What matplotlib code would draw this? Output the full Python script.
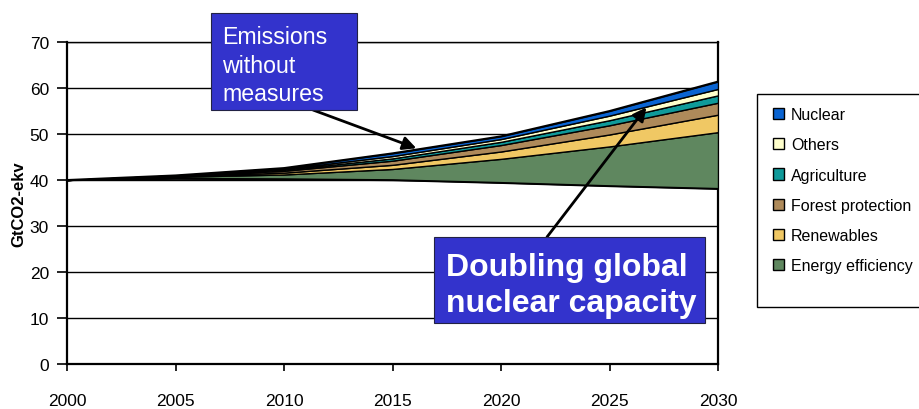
#!/usr/bin/env python3
"""Emission reduction wedges up to 2030, stacked on the with-measures path."""

import matplotlib
matplotlib.use("Agg")
import matplotlib.pyplot as plt
import numpy as np
from matplotlib.patches import Patch, Rectangle

plt.rcParams["font.family"] = ["Liberation Sans", "DejaVu Sans"]

years = [2000, 2005, 2010, 2015, 2020, 2025, 2030]

# emissions path after all measures (GtCO2-ekv)
with_measures = [40.0, 40.3, 40.2, 40.0, 39.4, 38.7, 38.1]

# reduction wedges, bottom to top
energy_efficiency = [0.0, 0.4, 1.0, 2.4, 5.2, 8.6, 12.3]
renewables = [0.0, 0.1, 0.4, 0.9, 1.6, 2.6, 3.8]
forest_protection = [0.0, 0.1, 0.4, 0.9, 1.4, 2.0, 2.6]
agriculture = [0.0, 0.05, 0.2, 0.5, 0.7, 1.1, 1.6]
others = [0.0, 0.05, 0.2, 0.5, 0.6, 1.0, 1.4]
nuclear = [0.0, 0.0, 0.2, 0.6, 0.6, 1.0, 1.6]

wedge_names = ["Energy efficiency", "Renewables", "Forest protection",
               "Agriculture", "Others", "Nuclear"]
wedge_values = [energy_efficiency, renewables, forest_protection,
                agriculture, others, nuclear]
wedge_colors = ["#5f875f", "#f0c864", "#ae8a5a", "#0f9a9a", "#ffffcc", "#0a64d2"]

x_ticks = [2000, 2005, 2010, 2015, 2020, 2025, 2030]
y_ticks = [0, 10, 20, 30, 40, 50, 60, 70]

W, H = 919, 410
fig = plt.figure(figsize=(W / 100, H / 100), dpi=100)
ax = fig.add_axes([67 / W, 45 / H, 651 / W, 322 / H])

# stacked wedges
lower = np.array(with_measures, dtype=float)
for name, vals, col in zip(wedge_names, wedge_values, wedge_colors):
    upper = lower + np.array(vals, dtype=float)
    ax.fill_between(years, lower, upper, facecolor=col, edgecolor="black",
                    linewidth=1.0, zorder=3)
    lower = upper
ax.plot(years, with_measures, color="black", lw=1.2, zorder=4)
ax.plot(years, lower, color="black", lw=1.4, zorder=4)

ax.set_xlim(2000, 2030)
ax.set_ylim(0, 70)
ax.set_xticks(x_ticks)
ax.set_yticks(y_ticks)
ax.tick_params(axis="x", direction="out", length=5, width=1.2, pad=16, labelsize=12.5)
ax.tick_params(axis="y", direction="out", length=7, width=1.2, pad=6, labelsize=12.5)
ax.yaxis.grid(True, color="black", lw=1.0, zorder=0)
ax.set_axisbelow(True)
for side in ["left", "bottom", "right"]:
    ax.spines[side].set_linewidth(1.6)
ax.spines["top"].set_linewidth(1.0)
ax.set_ylabel("GtCO2-ekv", fontsize=12, fontweight="bold")
ax.yaxis.set_label_coords(-0.062, 0.5)

# legend, top wedge first
handles = [Patch(facecolor=c, edgecolor="black", linewidth=1.0)
           for c in wedge_colors[::-1]]
fig.patches.append(Rectangle((757 / W, 102 / H), 0.3, 213 / H,
                             transform=fig.transFigure, facecolor="white",
                             edgecolor="black", linewidth=1.0, zorder=1))
fig.legend(handles, wedge_names[::-1], loc="upper left",
           bbox_to_anchor=(762 / W, 1 - 97 / H), frameon=False,
           fontsize=11.5, handlelength=0.7, handleheight=0.7, handletextpad=0.4,
           labelspacing=0.95, borderpad=0.2)

# callout boxes (text anchored on the baseline of the last line)
box_color = "#3333cc"
fig.patches.append(Rectangle((211 / W, 299 / H), 146 / W, 97 / H,
                             transform=fig.transFigure, facecolor=box_color,
                             edgecolor="#222244", linewidth=0.8, zorder=5))
fig.text(222 / W, 309 / H, "Emissions\nwithout\nmeasures", color="white",
         fontsize=16.7, ha="left", va="baseline", linespacing=1.3, zorder=6)

fig.patches.append(Rectangle((434 / W, 86 / H), 271 / W, 86 / H,
                             transform=fig.transFigure, facecolor=box_color,
                             edgecolor="#222244", linewidth=0.8, zorder=5))
fig.text(446 / W, 98 / H, "Doubling global\nnuclear capacity", color="white",
         fontsize=23, fontweight="bold", ha="left", va="baseline",
         linespacing=1.25, zorder=6)

arrow = dict(arrowstyle="-|>", color="black", lw=2.0, mutation_scale=20,
             shrinkA=0, shrinkB=0)
ax.annotate("", xy=(2016.1, 46.9), xytext=(313, 299),
            textcoords="figure pixels", arrowprops=arrow, zorder=6,
            annotation_clip=False)
ax.annotate("", xy=(2026.7, 55.8), xytext=(547, 172),
            textcoords="figure pixels", arrowprops=arrow, zorder=6,
            annotation_clip=False)

fig.savefig("out.png", dpi=100)
